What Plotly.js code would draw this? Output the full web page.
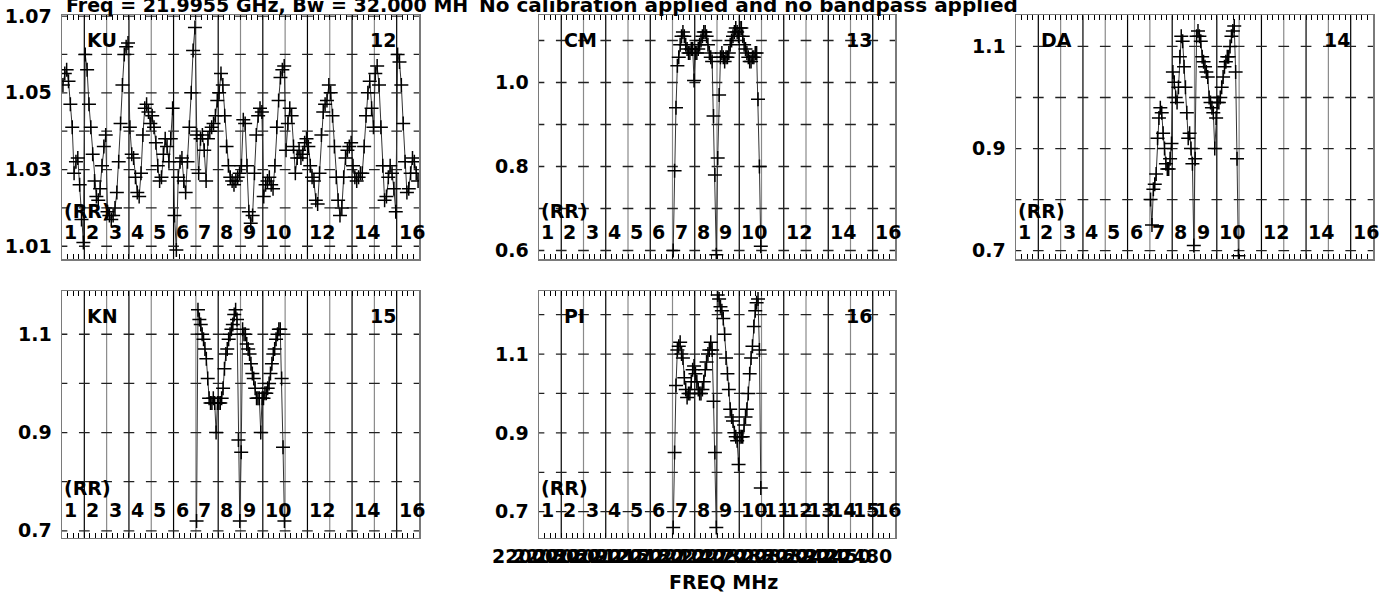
<!DOCTYPE html>
<html><head><meta charset="utf-8">
<script src="https://cdn.plot.ly/plotly-3.0.1.min.js"></script>
<style>html,body{margin:0;padding:0;background:#fff;} #chart{width:1393px;height:594px;}</style>
</head><body><div id="chart"></div>
<script>
// ---------- DATA ----------
const titleLeft = "Freq = 21.9955 GHz, Bw = 32.000 MH";
const titleRight = "No calibration applied and no bandpass applied";
const xAxisTitle = "FREQ MHz";
const stokesLabel = "(RR)";
const nIF = 16;
const panelAntennas = ["KU", "CM", "DA", "KN", "PI"];
const panelNumbers = ["12", "13", "14", "15", "16"];

const kuIFs = [1,2,3,4,5,6,7,8,9,10,11,12,13,14,15,16];
const kuAmp = [
  [1.052,1.055,1.056,1.053,1.047,1.041,1.029,1.032,1.033,1.026,1.017,1.011],
  [1.060,1.056,1.047,1.041,1.034,1.027,1.023,1.022,1.025,1.031,1.036,1.039],
  [1.019,1.018,1.017,1.018,1.020,1.024,1.032,1.042,1.052,1.060,1.062,1.063],
  [1.041,1.034,1.033,1.028,1.024,1.023,1.029,1.039,1.046,1.047,1.045,1.042],
  [1.044,1.041,1.037,1.031,1.027,1.028,1.034,1.038,1.036,1.032,1.038,1.046],
  [1.018,1.009,1.028,1.032,1.033,1.027,1.024,1.032,1.041,1.050,1.061,1.067],
  [1.039,1.029,1.038,1.039,1.035,1.027,1.038,1.040,1.041,1.042,1.044,1.048],
  [1.050,1.055,1.052,1.044,1.036,1.031,1.028,1.027,1.026,1.027,1.028,1.029],
  [1.031,1.043,1.042,1.031,1.019,1.016,1.018,1.029,1.039,1.044,1.046,1.045],
  [1.023,1.026,1.027,1.028,1.026,1.025,1.031,1.041,1.048,1.054,1.056,1.057],
  [1.035,1.042,1.046,1.044,1.036,1.029,1.033,1.035,1.033,1.034,1.037,1.038],
  [1.036,1.031,1.028,1.027,1.022,1.021,1.029,1.039,1.045,1.047,1.048,1.052],
  [1.050,1.044,1.036,1.028,1.022,1.018,1.020,1.028,1.033,1.035,1.036,1.037],
  [1.031,1.028,1.027,1.028,1.029,1.029,1.036,1.044,1.050,1.053,1.046,1.041],
  [1.055,1.057,1.052,1.041,1.031,1.022,1.023,1.028,1.031,1.029,1.025,1.019],
  [1.060,1.058,1.052,1.042,1.032,1.024,1.025,1.029,1.033,1.032,1.029,1.027]
];

const midIFs = [7,8,9,10];
const cmAmp = [
  [0.60,0.79,0.94,1.04,1.06,1.09,1.11,1.12,1.11,1.09,1.08,1.07,1.07,1.08,1.08,1.005],
  [1.07,1.07,1.08,1.09,1.10,1.11,1.12,1.12,1.11,1.09,1.07,1.06,1.05,0.92,0.78,0.59],
  [0.82,0.97,1.06,1.07,1.06,1.05,1.06,1.06,1.07,1.09,1.10,1.11,1.12,1.13,1.12,1.11],
  [1.13,1.13,1.11,1.09,1.08,1.07,1.06,1.05,1.05,1.06,1.06,1.07,1.07,0.96,0.80,0.61]
];
const daAmp = [
  [0.80,0.75,0.82,0.83,0.85,0.92,0.96,0.98,0.97,0.93,0.90,0.87,0.86,0.86,0.88,0.91],
  [1.05,1.03,1.00,0.99,1.02,1.08,1.12,1.11,1.06,1.02,0.97,0.92,0.93,0.90,0.87,0.71],
  [0.88,1.12,1.13,1.12,1.11,1.08,1.07,1.06,1.05,1.04,1.00,0.99,0.98,0.97,0.90,0.96],
  [0.99,0.99,1.00,1.02,1.04,1.06,1.07,1.08,1.08,1.10,1.12,1.13,1.14,1.05,0.88,0.69]
];
const knAmp = [
  [0.72,1.15,1.13,1.12,1.10,1.09,1.07,1.05,1.01,0.97,0.96,0.96,0.97,0.96,0.90,0.96],
  [0.96,0.96,0.97,0.99,1.03,1.06,1.07,1.09,1.10,1.11,1.12,1.14,1.15,1.13,0.885,0.72],
  [0.86,1.11,1.10,1.10,1.08,1.07,1.06,1.04,1.02,1.01,0.99,0.97,0.97,0.97,0.90,0.97],
  [0.97,0.98,0.98,0.99,1.00,1.02,1.04,1.06,1.07,1.09,1.10,1.11,1.11,1.01,0.87,0.72]
];
const piAmp = [
  [0.66,0.85,1.02,1.11,1.12,1.13,1.10,1.09,1.04,1.01,0.99,1.00,1.00,1.03,1.06,1.07],
  [1.05,1.03,1.01,1.00,1.00,1.01,1.03,1.06,1.08,1.10,1.11,1.13,1.11,0.98,0.85,0.66],
  [1.25,1.24,1.22,1.21,1.19,1.15,1.09,1.05,1.01,0.96,0.94,0.93,0.90,0.89,0.88,0.82],
  [0.89,0.89,0.89,0.92,0.94,0.96,1.00,1.05,1.09,1.12,1.17,1.21,1.23,1.24,1.11,0.76]
];

// y axis ranges, labelled ticks and minor (dash) ticks per panel
const kuRange = [1.0066, 1.0702], cmRange = [0.579, 1.160], daRange = [0.683, 1.161], knRange = [0.686, 1.188], piRange = [0.634, 1.260];
const kuTickLabels = [1.01, 1.03, 1.05, 1.07];
const kuTickMinor = [1.01, 1.02, 1.03, 1.04, 1.05, 1.06, 1.07];
const cmTickLabels = [0.6, 0.8, 1.0];
const cmTickMinor = [0.6, 0.7, 0.8, 0.9, 1.0, 1.1];
const daTickLabels = [0.7, 0.9, 1.1];
const daTickMinor = [0.7, 0.8, 0.9, 1.0, 1.1];
const knTickLabels = [0.7, 0.9, 1.1];
const knTickMinor = [0.7, 0.8, 0.9, 1.0, 1.1];
const piTickLabels = [0.7, 0.9, 1.1];
const piTickMinor = [0.7, 0.8, 0.9, 1.0, 1.1, 1.2];

// IF number labels drawn along the bottom of each panel
const ifLabelsSparse = [1,2,3,4,5,6,7,8,9,10,12,14,16];
const ifLabelsAll = [1,2,3,4,5,6,7,8,9,10,11,12,13,14,15,16];

// frequency axis labels (MHz)
const freqStart = 21995.5, ifWidthMHz = 32;
const freqLabels = [22000,22030,22060,22090,22120,22150,22180,22210,22240,22270,22300,22330,22360,22390,22420,22450,22480];

// ---------- LAYOUT / BUILD ----------
const W = 1393, H = 594;
const FONT = "DejaVu Sans";
const colsPx = [[62, 419], [539, 895], [1016, 1373]];
const rowsPx = [[15.3, 259.3], [291, 537.7]];
const panels = [
  {amp: kuAmp, ifs: kuIFs, range: kuRange, lab: kuTickLabels, minor: kuTickMinor, dec: 2, ifl: ifLabelsSparse, row: 0, col: 0},
  {amp: cmAmp, ifs: midIFs, range: cmRange, lab: cmTickLabels, minor: cmTickMinor, dec: 1, ifl: ifLabelsSparse, row: 0, col: 1},
  {amp: daAmp, ifs: midIFs, range: daRange, lab: daTickLabels, minor: daTickMinor, dec: 1, ifl: ifLabelsSparse, row: 0, col: 2},
  {amp: knAmp, ifs: midIFs, range: knRange, lab: knTickLabels, minor: knTickMinor, dec: 1, ifl: ifLabelsSparse, row: 1, col: 0},
  {amp: piAmp, ifs: midIFs, range: piRange, lab: piTickLabels, minor: piTickMinor, dec: 1, ifl: ifLabelsAll, row: 1, col: 1}
];

const traces = [];
const shapes = [];
const annotations = [];
const layout = {
  width: W, height: H,
  margin: {l: 0, r: 0, t: 0, b: 0},
  paper_bgcolor: "#fff", plot_bgcolor: "#fff",
  showlegend: false,
  font: {family: FONT, color: "#000"}
};

const boldFont = (size) => ({family: FONT, size: size, color: "#000", weight: "bold"});
const minorX = [];
for (let i = 0; i <= nIF * 4; i++) minorX.push(i / 4);
const dashHalf = 0.24; // half-length of the tick dashes, in IF units

panels.forEach((p, idx) => {
  const n = idx + 1;
  const sx = n === 1 ? "" : String(n);
  const xa = "x" + sx, ya = "y" + sx;
  const [x0, x1] = colsPx[p.col];
  const [t0, b0] = rowsPx[p.row];
  layout["xaxis" + sx] = {
    domain: [x0 / W, x1 / W], range: [0, nIF], anchor: ya,
    showline: true, mirror: "ticks", linecolor: "#7a7a7a", linewidth: 1.5,
    ticks: "inside", ticklen: 5, tickwidth: 1, tickcolor: "#000",
    tickmode: "array", tickvals: minorX, showticklabels: false,
    showgrid: false, zeroline: false, fixedrange: true
  };
  layout["yaxis" + sx] = {
    domain: [1 - b0 / H, 1 - t0 / H], range: p.range, anchor: xa,
    showline: true, mirror: true, linecolor: "#7a7a7a", linewidth: 1.5,
    ticks: "", tickmode: "array", tickvals: p.lab,
    ticktext: p.lab.map(v => v.toFixed(p.dec)),
    tickfont: boldFont(19), ticklabelstandoff: 5,
    showgrid: false, zeroline: false, fixedrange: true
  };
  // IF boundary lines
  for (let k = 1; k < nIF; k++) {
    shapes.push({type: "line", xref: xa, yref: ya + " domain", x0: k, x1: k, y0: 0, y1: 1,
      line: {color: k % 2 === 1 ? "#000" : "#8a8a8a", width: 1.2}, layer: "below"});
  }
  // short dashes at every tick value at each IF boundary
  for (let k = 0; k <= nIF; k++) {
    p.minor.forEach(t => {
      shapes.push({type: "line", xref: xa, yref: ya,
        x0: Math.max(0, k - dashHalf), x1: Math.min(nIF, k + dashHalf), y0: t, y1: t,
        line: {color: "#222", width: 1.3}, layer: "below"});
    });
  }
  // data
  const px = [], py = [];
  p.ifs.forEach((ifn, j) => {
    const vals = p.amp[j];
    const m = vals.length;
    vals.forEach((v, c) => { px.push((ifn - 1) + (c + 0.5) / m); py.push(v); });
  });
  traces.push({type: "scatter", mode: "lines+markers", x: px, y: py, xaxis: xa, yaxis: ya,
    line: {color: "#333", width: 1},
    marker: {symbol: "cross-thin", size: 10, color: "#000", line: {width: 1.5, color: "#000"}}});
  // text inside the panel
  annotations.push({xref: xa, yref: ya + " domain", x: 1, y: 0.897, xanchor: "left", yanchor: "middle", xshift: 1,
    text: panelAntennas[idx], showarrow: false, font: boldFont(19)});
  annotations.push({xref: xa, yref: ya + " domain", x: 15, y: 0.897, xanchor: "right", yanchor: "middle", xshift: 1,
    text: panelNumbers[idx], showarrow: false, font: boldFont(19)});
  annotations.push({xref: xa, yref: ya + " domain", x: 0, y: 0.2, xanchor: "left", yanchor: "middle", xshift: 0,
    text: stokesLabel, showarrow: false, font: boldFont(19)});
  p.ifl.forEach(k => {
    annotations.push({xref: xa, yref: ya + " domain", x: k - 1, y: 0.113, xanchor: "left", yanchor: "middle", xshift: 0,
      text: String(k), showarrow: false, font: boldFont(19)});
  });
});

// frequency labels under the PI panel
freqLabels.forEach(f => {
  annotations.push({xref: "x5", yref: "paper", x: (f - freqStart) / ifWidthMHz, y: 1 - 556 / H,
    xanchor: "center", yanchor: "middle", xshift: -17, text: String(f), showarrow: false, font: boldFont(19)});
});
annotations.push({xref: "x5 domain", yref: "paper", x: 0.5, y: 1 - 582 / H, xanchor: "center", yanchor: "middle", xshift: 6,
  text: xAxisTitle, showarrow: false, font: boldFont(19)});
// page title (partly above the page)
annotations.push({xref: "paper", yref: "paper", x: 64 / W, y: 1 - 5 / H, xanchor: "left", yanchor: "middle",
  text: titleLeft, showarrow: false, font: boldFont(19)});
annotations.push({xref: "paper", yref: "paper", x: 477 / W, y: 1 - 5 / H, xanchor: "left", yanchor: "middle",
  text: titleRight, showarrow: false, font: boldFont(20)});

layout.shapes = shapes;
layout.annotations = annotations;

Plotly.newPlot("chart", traces, layout, {displayModeBar: false, staticPlot: true});
</script>
</body></html>
